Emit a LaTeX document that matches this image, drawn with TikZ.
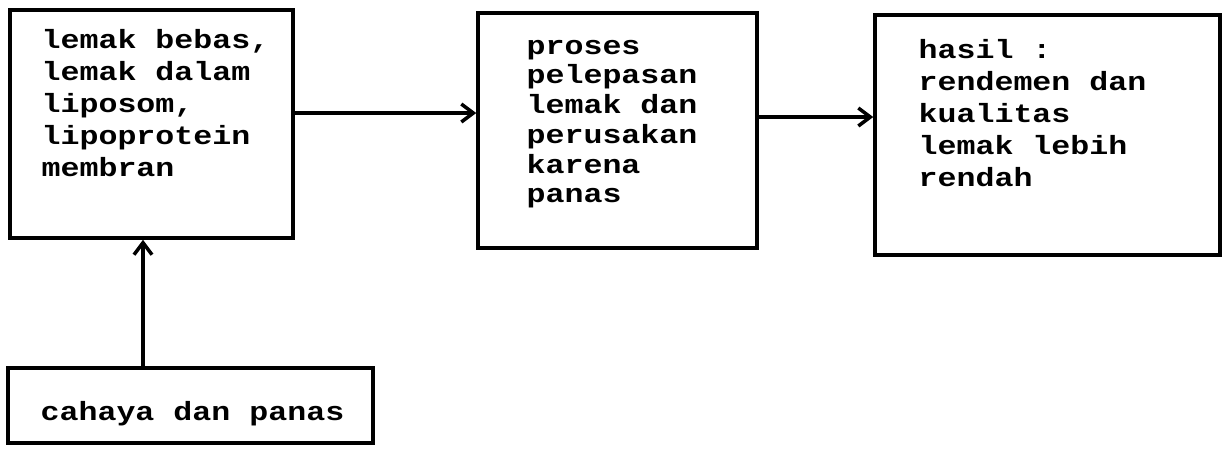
\documentclass[tikz,border=0pt]{standalone}
\usepackage{fontspec}
\newfontfamily\typefont[FakeStretch=1.2]{Liberation Mono}
\usetikzlibrary{arrows.meta}

\begin{document}
\begin{tikzpicture}[
            box/.style={draw=black, line width=2pt, rectangle, inner sep=0pt},
            boxtext/.style={anchor=base west, inner sep=0pt, text width=6.5cm, align=left,
                font=\typefont\bfseries\fontsize{15}{18.2}\selectfont,
                execute at begin node={\spaceskip=10.8pt\relax}},
            arrow/.style={line width=2pt, -{Straight Barb[length=2.4mm, width=3.6mm, line width=2pt]}}
        ]
            \useasboundingbox (0, 0) rectangle (24.54, -9);

            % boxes
            \node[box, minimum width=5.66cm, minimum height=4.56cm] (lemak) at (3.03, -2.48) {};
            \node[box, minimum width=5.58cm, minimum height=4.70cm] (proses) at (12.35, -2.61) {};
            \node[box, minimum width=6.90cm, minimum height=4.80cm] (hasil) at (20.95, -2.70) {};
            \node[box, minimum width=7.30cm, minimum height=1.50cm] (cahaya) at (3.81, -8.11) {};

            % texts inside the boxes
            \node[boxtext, xshift=6.6mm, yshift=-8.0mm] (lemaktext) at (lemak.north west)
                {lemak bebas,\\lemak dalam\\liposom,\\lipoprotein\\membran};
            \node[boxtext, xshift=10mm, yshift=-8.6mm,
                font=\typefont\bfseries\fontsize{15}{16.9}\selectfont] (prosestext) at (proses.north west)
                {proses\\pelepasan\\lemak dan\\perusakan\\karena\\panas};
            \node[boxtext, xshift=9mm, yshift=-9mm] (hasiltext) at (hasil.north west)
                {hasil :\\rendemen dan\\kualitas\\lemak lebih\\rendah};
            \node[boxtext, xshift=6.8mm, yshift=-10.8mm] (cahayatext) at (cahaya.north west)
                {cahaya dan panas};

            % arrows
            \draw[arrow] ([yshift=2.2mm]lemak.east) -- ([yshift=2.2mm]lemak.east -| proses.west);
            \draw[arrow] ([yshift=2.7mm]proses.east) -- ([yshift=2.7mm]proses.east -| hasil.west);
            \draw[arrow] ([xshift=-9.5mm]cahaya.north) -- ([xshift=-9.5mm]cahaya.north |- lemak.south);

        \end{tikzpicture}
\end{document}
